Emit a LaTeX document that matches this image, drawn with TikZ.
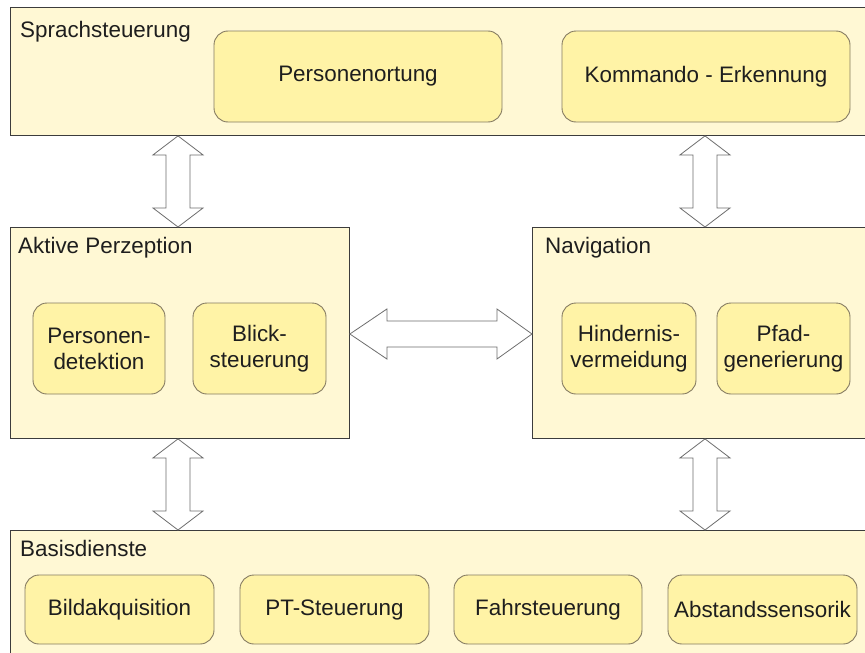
\documentclass[tikz,border=0pt]{standalone}
\usepackage{fontspec}
\setmainfont{Liberation Sans}
\usetikzlibrary{calc}
\definecolor{layerfill}{HTML}{FFF8D4}
\definecolor{layerline}{HTML}{3C3C3C}
\definecolor{modfill}{HTML}{FFF3A6}
\definecolor{modline}{HTML}{857B62}
\definecolor{txt}{HTML}{1E1E1E}
\definecolor{arrline}{HTML}{6E6E6E}
\tikzset{
  layer/.style={draw=layerline, fill=layerfill, line width=0.9pt, anchor=north west,
    inner sep=0pt, minimum width=#1},
  layertitle/.style={anchor=base west, inner sep=0pt, text=txt,
    font=\fontsize{22.4}{26}\selectfont},
  module/.style={draw=modline, fill=modfill, line width=0.9pt, rounded corners=14pt,
    inner sep=0pt, text=txt, align=center,
    font=\fontsize{22.4}{26}\selectfont},
  biarrow/.style={draw=arrline, fill=white, line width=0.8pt, line join=miter},
}
% vertical double arrow between two tips (top, bottom)
\newcommand{\vbiarrow}[2]{%
  \draw[biarrow] (#1) -- ($(#1)+(25,19)$) -- ($(#1)+(12,19)$) -- ($(#2)+(12,-19)$)
    -- ($(#2)+(25,-19)$) -- (#2) -- ($(#2)+(-25,-19)$) -- ($(#2)+(-12,-19)$)
    -- ($(#1)+(-12,19)$) -- ($(#1)+(-25,19)$) -- cycle;}
% horizontal double arrow between two tips (left, right)
\newcommand{\hbiarrow}[2]{%
  \draw[biarrow] (#1) -- ($(#1)+(37,-25)$) -- ($(#1)+(37,-13)$) -- ($(#2)+(-35,-13)$)
    -- ($(#2)+(-35,-25)$) -- (#2) -- ($(#2)+(-35,25)$) -- ($(#2)+(-35,13)$)
    -- ($(#1)+(37,13)$) -- ($(#1)+(37,25)$) -- cycle;}
\begin{document}
\begin{tikzpicture}[x=1pt, y=-1pt]
  \useasboundingbox (0,0) rectangle (865,653);
  \fill[white] (0,0) rectangle (865,653);

  % layers
  \node[layer=858pt, minimum height=128pt] (sprach) at (10,7) {};
  \node[layer=339pt, minimum height=211pt] (aktiv) at (10,227) {};
  \node[layer=336pt, minimum height=211pt] (nav) at (532,227) {};
  \node[layer=858pt, minimum height=130pt] (basis) at (10,530) {};

  \node[layertitle] (tsprach) at ($(sprach.north west)+(10,30)$) {Sprachsteuerung};
  \node[layertitle] (taktiv) at ($(aktiv.north west)+(8,26)$) {Aktive Perzeption};
  \node[layertitle] (tnav) at ($(nav.north west)+(13,26)$) {Navigation};
  \node[layertitle] (tbasis) at ($(basis.north west)+(10,26)$) {Basisdienste};

  % modules
  \node[module, minimum width=288pt, minimum height=91pt] (ortung) at (358,76.5) {Personenortung};
  \node[module, minimum width=288pt, minimum height=91pt] (kommando) at (706,76.5) {Kommando - Erkennung};

  \node[module, minimum width=132pt, minimum height=91pt] (detekt) at (99,348.5) {Personen-\\detektion};
  \node[module, minimum width=133pt, minimum height=91pt] (blick) at (259.5,348.5) {Blick-\\steuerung};

  \node[module, minimum width=134pt, minimum height=91pt] (hind) at (629,348.5) {Hindernis-\\vermeidung};
  \node[module, minimum width=133pt, minimum height=91pt] (pfad) at (783.5,348.5) {Pfad-\\generierung};

  \node[module, minimum width=189pt, minimum height=69pt] (bild) at (119.5,609.5) {Bildakquisition};
  \node[module, minimum width=189pt, minimum height=69pt] (pt) at (334.5,609.5) {PT-Steuerung};
  \node[module, minimum width=188pt, minimum height=69pt] (fahr) at (548,609.5) {Fahrsteuerung};
  \node[module, minimum width=189pt, minimum height=69pt] (abst) at (762.5,609.5) {Abstandssensorik};

  % connectors between layers
  \coordinate (xl) at (178,0);
  \coordinate (xr) at (705,0);
  \coordinate (ymid) at (0,334);
  \vbiarrow{sprach.south -| xl}{aktiv.north -| xl}
  \vbiarrow{sprach.south -| xr}{nav.north -| xr}
  \vbiarrow{aktiv.south -| xl}{basis.north -| xl}
  \vbiarrow{nav.south -| xr}{basis.north -| xr}
  \hbiarrow{aktiv.east |- ymid}{nav.west |- ymid}
\end{tikzpicture}
\end{document}
